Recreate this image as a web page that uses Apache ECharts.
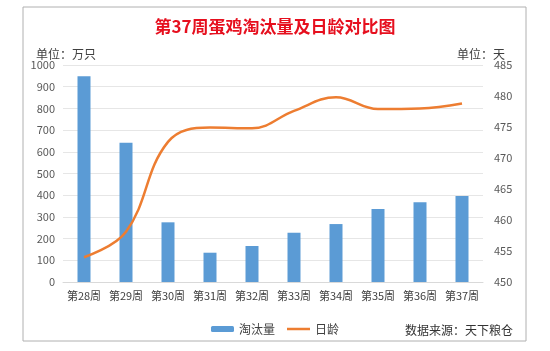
<!DOCTYPE html>
<html>
<head>
<meta charset="utf-8">
<script src="https://cdn.jsdelivr.net/npm/echarts@6/dist/echarts.min.js"></script>
<style>
  html, body { margin: 0; padding: 0; background: #fff; }
  #chart { width: 550px; height: 351px; }
</style>
</head>
<body>
<div id="chart"></div>
<script>
const weeks = ['第28周', '第29周', '第30周', '第31周', '第32周', '第33周', '第34周', '第35周', '第36周', '第37周'];
const culledAmount = [948, 642, 275, 135, 166, 227, 267, 336, 367, 396];
const ageDays = [454.0, 458.1, 472.6, 474.9, 474.8, 477.6, 479.8, 477.9, 478.0, 478.8];

const chart = echarts.init(document.getElementById('chart'));
const font = '"Microsoft YaHei", "Noto Sans CJK SC", sans-serif';

chart.setOption({
  animation: false,
  textStyle: { fontFamily: font },
  title: {
    text: '第37周蛋鸡淘汰量及日龄对比图',
    left: 'center',
    top: 13,
    textStyle: { color: '#e60f1e', fontSize: 17, fontWeight: 'bold', fontFamily: font },
  },
  graphic: [
    {
      type: 'rect',
      shape: { x: 23, y: 7, width: 503, height: 334 },
      style: { fill: 'none', stroke: '#b0b0b0', lineWidth: 1 },
      silent: true,
    },
    {
      type: 'text',
      left: 36,
      top: 48,
      style: { text: '单位：万只', fill: '#404040', font: '12px ' + font },
    },
    {
      type: 'text',
      right: 45,
      top: 48,
      style: { text: '单位：天', fill: '#404040', font: '12px ' + font },
    },
    {
      type: 'text',
      right: 37,
      top: 324,
      style: { text: '数据来源：天下粮仓', fill: '#333', font: '12px ' + font },
    },
  ],
  legend: {
    data: [
      { name: '淘汰量' },
      { name: '日龄', icon: 'path://M0 0H23V2.5H0Z' },
    ],
    left: 'center',
    top: 318,
    itemWidth: 23,
    itemHeight: 6,
    itemGap: 12,
    textStyle: { color: '#404040', fontSize: 12 },
  },
  grid: { left: 63, right: 67, top: 65, bottom: 69 },
  xAxis: {
    type: 'category',
    data: weeks,
    axisLine: { lineStyle: { color: '#d9d9d9' } },
    axisTick: { show: false },
    axisLabel: { color: '#404040', fontSize: 11, margin: 8, interval: 0 },
  },
  yAxis: [
    {
      type: 'value',
      min: 0,
      max: 1000,
      interval: 100,
      axisLine: { show: false },
      axisTick: { show: false },
      axisLabel: { color: '#595959', fontSize: 11, margin: 8, formatter: (v) => String(v) },
      splitLine: { lineStyle: { color: '#e6e6e6' } },
    },
    {
      type: 'value',
      min: 450,
      max: 485,
      interval: 5,
      axisLine: { show: false },
      axisTick: { show: false },
      axisLabel: { color: '#595959', fontSize: 11, margin: 11 },
      splitLine: { show: false },
    },
  ],
  series: [
    {
      name: '淘汰量',
      type: 'bar',
      data: culledAmount,
      barWidth: 13,
      itemStyle: { color: '#5b9bd5' },
    },
    {
      name: '日龄',
      type: 'line',
      yAxisIndex: 1,
      data: ageDays,
      smooth: 0.4,
      symbol: 'none',
      lineStyle: { color: '#ed7d31', width: 2.5 },
      itemStyle: { color: '#ed7d31' },
    },
  ],
});
</script>
</body>
</html>
